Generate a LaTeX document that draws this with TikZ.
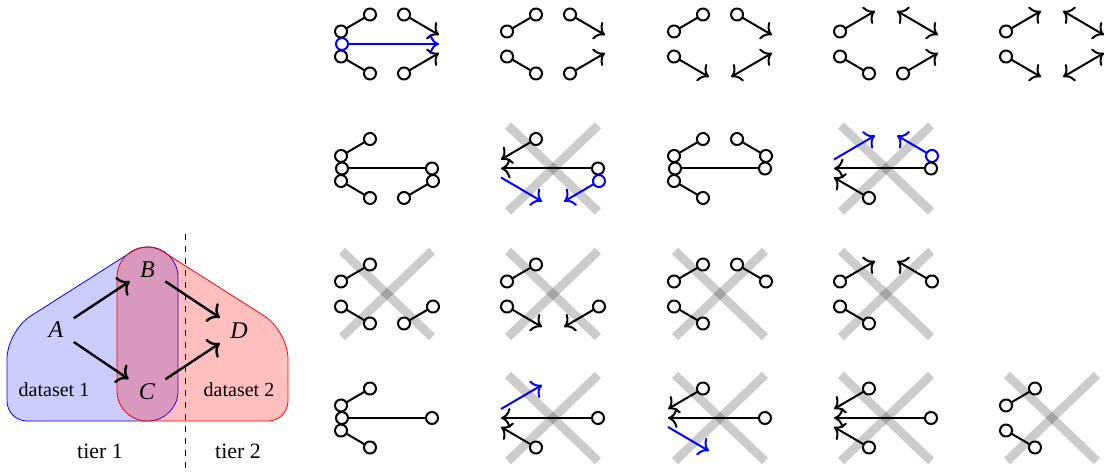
\documentclass[11pt,tikz,border=0pt]{standalone}
\usepackage{fontspec}
\setmainfont{Liberation Serif}
\usetikzlibrary{arrows.meta}
\tikzset{
  ring/.tip={Circle[fill=white,length=7pt]},
  head/.tip={Computer Modern Rightarrow[scale=1.25]},
  var/.style={font=\large\itshape,inner sep=5pt},
  link/.style={-head,very thick},
  region/.style={fill opacity=0.25},
  oo/.style={line width=1pt,ring-ring},
  oh/.style={line width=1pt,ring-head},
  hh/.style={line width=1pt,head-head},
  th/.style={line width=1pt,-head},
  cross/.style={line width=4.4pt,black,opacity=0.2}
}
% end points of the five edges of one small graph
\newcommand\glyphends{%
  \foreach \n/\x/\y in {ab/-5.2/0.9,ba/-1.1/3.3,bd/1.1/3.3,db/5.2/0.9,
      ac/-5.2/-0.9,ca/-1.1/-3.3,cd/1.1/-3.3,dc/5.2/-0.9,ad/-5.2/0,da/5.2/0}
    \coordinate (\n) at (\x,\y);}
\newcommand\crossout{%
  \draw[cross] (-4.5,4.3) -- (4.5,-4.3);
  \draw[cross] (-4.5,-4.3) -- (4.5,4.3);}

\begin{document}
\begin{tikzpicture}[x=5pt,y=5pt]
  \useasboundingbox (0,0) rectangle (110.7,47.1);
  % datasets
  \draw[blue,fill=blue,region,fill opacity=0.2] (17.8,19.4) arc[start angle=0,end angle=122.6,radius=3]
    [rounded corners=14pt] -- (0.7,14.0)
    [rounded corners=10pt] -- (0.7,5.0)
    [rounded corners=15pt] -- (17.8,5.0)
    [sharp corners] -- cycle;
  \draw[red,fill=red,region] (11.7,19.4) arc[start angle=180,end angle=57.4,radius=3]
    [rounded corners=14pt] -- (28.8,14.0)
    [rounded corners=10pt] -- (28.8,5.0)
    [rounded corners=15pt] -- (11.7,5.0)
    [sharp corners] -- cycle;
  \coordinate (cut top) at (18.5,23.7);
  \coordinate (cut bottom) at (18.5,0.2);
  \draw[dashed] (cut top) -- (cut bottom);
  \node[var] (A) at (5.6,14.1) {A};
  \node[var] (B) at (14.75,20.15) {B};
  \node[var] (C) at (14.7,7.95) {C};
  \node[var] (D) at (23.9,14.05) {D};
  \draw[link] (A) -- (B);
  \draw[link] (A) -- (C);
  \draw[link] (B) -- (D);
  \draw[link] (C) -- (D);
  \node[font=\small] (set1) at (5.4,8.1) {dataset 1};
  \node[font=\small] (set2) at (23.9,8.1) {dataset 2};
  \node (tier1) at (10.0,1.95) {tier 1};
  \node (tier2) at (23.8,1.95) {tier 2};

  % row 1
  \begin{scope}[shift={(38.7,42.7)}]
    \glyphends
    \draw[oo] (ab) -- (ba);
    \draw[oh] (bd) -- (db);
    \draw[oo] (ac) -- (ca);
    \draw[oh] (cd) -- (dc);
    \draw[oh,blue] (ad) -- (da);
  \end{scope}
  \begin{scope}[shift={(55.3,42.7)}]
    \glyphends
    \draw[oo] (ab) -- (ba);
    \draw[oh] (bd) -- (db);
    \draw[oo] (ac) -- (ca);
    \draw[oh] (cd) -- (dc);
  \end{scope}
  \begin{scope}[shift={(72.0,42.7)}]
    \glyphends
    \draw[oo] (ab) -- (ba);
    \draw[oh] (bd) -- (db);
    \draw[oh] (ac) -- (ca);
    \draw[hh] (cd) -- (dc);
  \end{scope}
  \begin{scope}[shift={(88.6,42.7)}]
    \glyphends
    \draw[oh] (ab) -- (ba);
    \draw[hh] (bd) -- (db);
    \draw[oo] (ac) -- (ca);
    \draw[oh] (cd) -- (dc);
  \end{scope}
  \begin{scope}[shift={(105.2,42.7)}]
    \glyphends
    \draw[oh] (ab) -- (ba);
    \draw[hh] (bd) -- (db);
    \draw[oh] (ac) -- (ca);
    \draw[hh] (cd) -- (dc);
  \end{scope}

  % row 2
  \begin{scope}[shift={(38.7,30.25)}]
    \glyphends
    \draw[oo] (ab) -- (ba);
    \draw[oo] (ad) -- (da);
    \draw[oo] (ac) -- (ca);
    \draw[oo] (cd) -- (dc);
  \end{scope}
  \begin{scope}[shift={(55.3,30.25)}]
    \crossout
    \glyphends
    \draw[oh] (ba) -- (ab);
    \draw[oh] (da) -- (ad);
    \draw[th,blue] (ac) -- (ca);
    \draw[oh,blue] (dc) -- (cd);
  \end{scope}
  \begin{scope}[shift={(72.0,30.25)}]
    \glyphends
    \draw[oo] (ab) -- (ba);
    \draw[oo] (bd) -- (db);
    \draw[oo] (ad) -- (da);
    \draw[oo] (ac) -- (ca);
  \end{scope}
  \begin{scope}[shift={(88.6,30.25)}]
    \crossout
    \glyphends
    \draw[th,blue] (ab) -- (ba);
    \draw[oh,blue] (db) -- (bd);
    \draw[oh] (da) -- (ad);
    \draw[oh] (ca) -- (ac);
  \end{scope}

  % row 3
  \begin{scope}[shift={(38.7,17.7)}]
    \crossout
    \glyphends
    \draw[oo] (ab) -- (ba);
    \draw[oo] (ac) -- (ca);
    \draw[oo] (cd) -- (dc);
  \end{scope}
  \begin{scope}[shift={(55.3,17.7)}]
    \crossout
    \glyphends
    \draw[oo] (ab) -- (ba);
    \draw[oh] (ac) -- (ca);
    \draw[oh] (dc) -- (cd);
  \end{scope}
  \begin{scope}[shift={(72.0,17.7)}]
    \crossout
    \glyphends
    \draw[oo] (ab) -- (ba);
    \draw[oo] (bd) -- (db);
    \draw[oo] (ac) -- (ca);
  \end{scope}
  \begin{scope}[shift={(88.6,17.7)}]
    \crossout
    \glyphends
    \draw[oh] (ab) -- (ba);
    \draw[oh] (db) -- (bd);
    \draw[oo] (ac) -- (ca);
  \end{scope}

  % row 4
  \begin{scope}[shift={(38.7,5.3)}]
    \glyphends
    \draw[oo] (ab) -- (ba);
    \draw[oo] (ad) -- (da);
    \draw[oo] (ac) -- (ca);
  \end{scope}
  \begin{scope}[shift={(55.3,5.3)}]
    \crossout
    \glyphends
    \draw[th,blue] (ab) -- (ba);
    \draw[oh] (da) -- (ad);
    \draw[oh] (ca) -- (ac);
  \end{scope}
  \begin{scope}[shift={(72.0,5.3)}]
    \crossout
    \glyphends
    \draw[oh] (ba) -- (ab);
    \draw[oh] (da) -- (ad);
    \draw[th,blue] (ac) -- (ca);
  \end{scope}
  \begin{scope}[shift={(88.6,5.3)}]
    \crossout
    \glyphends
    \draw[oh] (ba) -- (ab);
    \draw[oh] (da) -- (ad);
    \draw[oh] (ca) -- (ac);
  \end{scope}
  \begin{scope}[shift={(105.2,5.3)}]
    \crossout
    \glyphends
    \draw[oo] (ab) -- (ba);
    \draw[oo] (ac) -- (ca);
  \end{scope}
\end{tikzpicture}
\end{document}
